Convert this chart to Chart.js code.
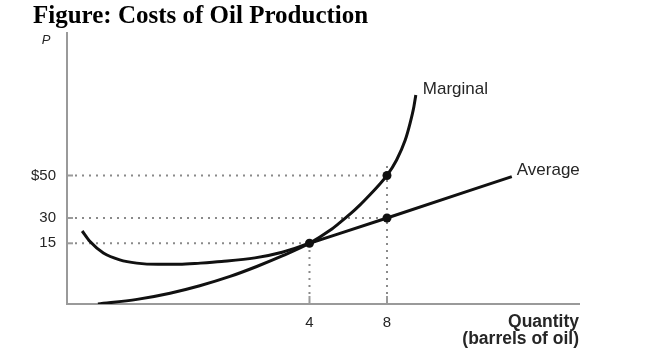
<!DOCTYPE html>
<html>
<head>
<meta charset="utf-8">
<script src="https://cdn.jsdelivr.net/npm/chart.js@4.4.0/dist/chart.umd.min.js"></script>
<style>
  html, body { margin: 0; padding: 0; background: #ffffff; }
  #wrap { width: 650px; height: 353px; }
</style>
</head>
<body>
<div id="wrap"><canvas id="c" width="650" height="353"></canvas></div>
<script>
// ---------- text ----------
const chartTitle = 'Figure: Costs of Oil Production';
const yAxisLabel = 'P';
const xAxisTitle = ['Quantity', '(barrels of oil)'];
const seriesNames = ['Marginal', 'Average'];

// ---------- ticks ----------
const xTickValues = [4, 8];
const xTickLabels = ['4', '8'];
const yTickValues = [15, 30, 50];
const yTickLabels = ['15', '30', '$50'];

// ---------- series (quantity, price) ----------
const marginalQ = [0.51, 1.155, 1.7, 2.19, 2.69, 3.13, 3.56, 4, 5.06, 5.57, 6.09, 6.61, 7.12, 7.54, 8, 8.5, 8.95, 9.2, 9.4, 9.5];
const marginalP = [0, 1.14, 2.67, 4.52, 6.82, 9.27, 11.93, 15, 22.7, 27.3, 31.8, 36.2, 40.96, 45.1, 50, 57.6, 67.4, 75.6, 83.8, 89.5];
const averageQ = [0.25, 0.38, 0.6, 0.87, 1.15, 1.5, 1.85, 2.2, 2.55, 3.1, 3.55, 4, 8, 14.5];
const averageP = [22.3, 16.0, 12.6, 10.9, 10.1, 9.8, 9.8, 10.1, 10.5, 11.4, 12.8, 15, 30, 49.5];

// highlighted points
const keyQ = [4, 8, 8];
const keyP = [15, 30, 50];
// vertical dotted guides: quantity and the price they reach up to
const guideQ = [4, 8];
const guideTopP = [15, 56];

// ---------- schematic (non-linear) axes: value breakpoints -> axis fraction ----------
const xBreakValues = [0, 4, 8, 18];
const xBreakFractions = [0, 0.4736, 0.625, 1];
const yBreakValues = [0, 15, 30, 50, 120];
const yBreakFractions = [0, 0.224, 0.3173, 0.4742, 1];

const BREAKS = {
  x: { v: xBreakValues, f: xBreakFractions },
  y: { v: yBreakValues, f: yBreakFractions }
};

function interp(from, to, val) {
  const n = from.length;
  if (val <= from[0]) {
    return to[0] + (val - from[0]) * (to[1] - to[0]) / (from[1] - from[0]);
  }
  for (let i = 1; i < n; i++) {
    if (val <= from[i] || i === n - 1) {
      return to[i - 1] + (val - from[i - 1]) * (to[i] - to[i - 1]) / (from[i] - from[i - 1]);
    }
  }
  return to[n - 1];
}

class PiecewiseScale extends Chart.LinearScale {
  getPixelForValue(value) {
    if (value === null || value === undefined || isNaN(value)) return NaN;
    const b = BREAKS[this.id];
    return this.getPixelForDecimal(interp(b.v, b.f, value));
  }
  getValueForPixel(pixel) {
    const b = BREAKS[this.id];
    return interp(b.f, b.v, this.getDecimalForPixel(pixel));
  }
  // do not clip tick labels to the scale box
  _computeLabelArea() { return undefined; }
}
PiecewiseScale.id = 'piecewise';
PiecewiseScale.defaults = Chart.LinearScale.defaults;
Chart.register(PiecewiseScale);

const toPts = (qs, ps) => qs.map((q, i) => ({ x: q, y: ps[i] }));

const sans = '"Liberation Sans", Arial, Helvetica, sans-serif';
const textGrey = '#262626';
const axisGrey = '#9a9a9a';
const guideGrey = '#8a8a8a';

function setTicks(values, labels) {
  return {
    afterBuildTicks: s => { s.ticks = values.map(v => ({ value: v })); },
    afterTickToLabelConversion: s => {
      s.ticks.forEach(t => { t.label = labels[values.indexOf(t.value)]; });
    }
  };
}

const annotationPlugin = {
  id: 'annotations',
  beforeDatasetsDraw(chart) {
    const { ctx, chartArea: a, scales: { x, y } } = chart;
    ctx.save();
    // inward tick marks
    ctx.strokeStyle = axisGrey;
    ctx.lineWidth = 2;
    yTickValues.forEach(v => {
      const py = y.getPixelForValue(v);
      ctx.beginPath(); ctx.moveTo(a.left, py); ctx.lineTo(a.left + 6, py); ctx.stroke();
    });
    xTickValues.forEach(v => {
      const px = x.getPixelForValue(v);
      ctx.beginPath(); ctx.moveTo(px, a.bottom); ctx.lineTo(px, a.bottom - 8); ctx.stroke();
    });
    // dotted guides
    ctx.strokeStyle = guideGrey;
    ctx.setLineDash([2, 5]);
    keyQ.forEach((q, i) => {
      const px = x.getPixelForValue(q), py = y.getPixelForValue(keyP[i]);
      ctx.beginPath(); ctx.moveTo(a.left + 8, py); ctx.lineTo(px, py); ctx.stroke();
    });
    guideQ.forEach((q, i) => {
      const px = x.getPixelForValue(q), top = y.getPixelForValue(guideTopP[i]);
      ctx.beginPath(); ctx.moveTo(px, a.bottom - 10); ctx.lineTo(px, top); ctx.stroke();
    });
    ctx.restore();
  },
  afterDraw(chart) {
    const { ctx, chartArea: a, scales: { x, y } } = chart;
    ctx.save();
    ctx.fillStyle = textGrey;
    ctx.textBaseline = 'middle';
    // y axis label
    ctx.font = 'italic 13px ' + sans;
    ctx.textAlign = 'center';
    ctx.fillText(yAxisLabel, a.left - 21, a.top + 7);
    // curve labels at line ends
    ctx.font = '17px ' + sans;
    ctx.textAlign = 'left';
    const mEndX = x.getPixelForValue(marginalQ[marginalQ.length - 1]);
    const mEndY = y.getPixelForValue(marginalP[marginalP.length - 1]);
    ctx.fillText(seriesNames[0], mEndX + 7, mEndY - 6);
    const aEndX = x.getPixelForValue(averageQ[averageQ.length - 1]);
    const aEndY = y.getPixelForValue(averageP[averageP.length - 1]);
    ctx.fillText(seriesNames[1], aEndX + 5, aEndY - 6);
    ctx.restore();
  }
};

const curveStyle = {
  showLine: true,
  borderColor: '#111111',
  borderWidth: 3,
  pointRadius: 0,
  cubicInterpolationMode: 'monotone',
  fill: false
};

new Chart(document.getElementById('c'), {
  type: 'scatter',
  data: {
    datasets: [
      Object.assign({ label: seriesNames[0], data: toPts(marginalQ, marginalP) }, curveStyle),
      Object.assign({ label: seriesNames[1], data: toPts(averageQ, averageP) }, curveStyle),
      {
        label: 'points',
        data: toPts(keyQ, keyP),
        showLine: false,
        pointRadius: 4.5,
        pointBackgroundColor: '#111111',
        pointBorderWidth: 0
      }
    ]
  },
  options: {
    responsive: false,
    animation: false,
    events: [],
    layout: { padding: { left: 33, right: 71, top: 0, bottom: 0 } },
    plugins: {
      legend: { display: false },
      tooltip: { enabled: false },
      title: {
        display: true,
        text: chartTitle,
        align: 'start',
        color: '#000000',
        font: { family: '"Liberation Serif", "Times New Roman", serif', size: 25, weight: 'bold', lineHeight: 1.2 },
        padding: { top: 2, bottom: 1 }
      }
    },
    scales: {
      x: Object.assign({
        type: 'piecewise',
        position: 'bottom',
        min: 0,
        max: 18,
        grid: { display: false, drawTicks: false },
        border: { display: true, color: axisGrey, width: 2 },
        afterFit: s => { s.height = 49; },
        ticks: {
          autoSkip: false,
          maxRotation: 0,
          padding: 10,
          color: textGrey,
          font: { family: sans, size: 15 }
        },
        title: {
          display: true,
          text: xAxisTitle,
          align: 'end',
          color: textGrey,
          font: { family: sans, size: 17.5, weight: 'bold', lineHeight: '17px' },
          padding: { top: 0, bottom: 5.5 }
        }
      }, setTicks(xTickValues, xTickLabels)),
      y: Object.assign({
        type: 'piecewise',
        position: 'left',
        min: 0,
        max: 120,
        grid: { display: false, drawTicks: false },
        border: { display: true, color: axisGrey, width: 2 },
        afterFit: s => { s.width = 34; },
        ticks: {
          autoSkip: false,
          padding: 11,
          color: textGrey,
          font: { family: sans, size: 15 }
        }
      }, setTicks(yTickValues, yTickLabels))
    }
  },
  plugins: [annotationPlugin]
});
</script>
</body>
</html>
